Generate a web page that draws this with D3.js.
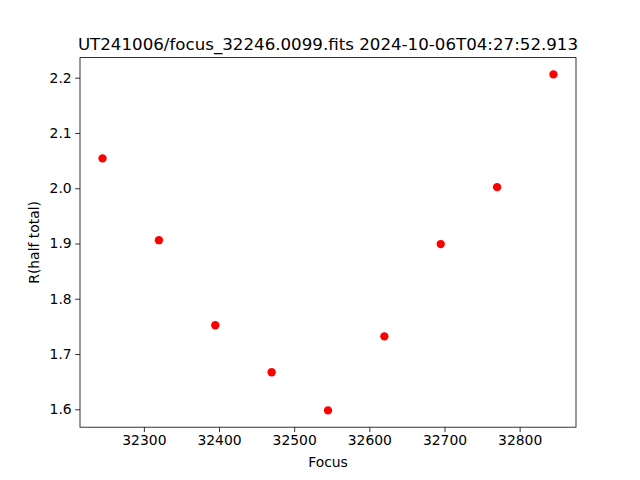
<!DOCTYPE html>
<html><head><meta charset="utf-8">
<script src="https://cdn.jsdelivr.net/npm/d3@7"></script>
<style>body{margin:0;background:#fff}svg{display:block}text{font-family:"DejaVu Sans",sans-serif}</style>
</head><body>
<svg id="c" width="640" height="480"></svg>
<script>
const focus = [32245, 32320, 32395, 32470, 32545, 32620, 32695, 32770, 32845];
const rhalf = [2.054, 1.906, 1.752, 1.667, 1.598, 1.732, 1.899, 2.002, 2.206];
const xTicks = [32300, 32400, 32500, 32600, 32700, 32800];
const yTicks = [1.6, 1.7, 1.8, 1.9, 2.0, 2.1, 2.2];
const title = "UT241006/focus_32246.0099.fits 2024-10-06T04:27:52.913";

const svg = d3.select("#c");
const L = 80, R = 576, T = 57.6, B = 427.2;
const xmin = d3.min(focus), xmax = d3.max(focus), xm = (xmax - xmin) * 0.05;
const ymin = d3.min(rhalf), ymax = d3.max(rhalf), ym = (ymax - ymin) * 0.05;
const x = d3.scaleLinear().domain([xmin - xm, xmax + xm]).range([L, R]);
const y = d3.scaleLinear().domain([ymin - ym, ymax + ym]).range([B, T]);

const xa = svg.append("g").attr("transform", `translate(0,${B})`)
  .call(d3.axisBottom(x).tickValues(xTicks).tickFormat(d3.format("d")).tickSize(4.86).tickPadding(3.5));
const ya = svg.append("g").attr("transform", `translate(${L},0)`)
  .call(d3.axisLeft(y).tickValues(yTicks).tickFormat(d3.format(".1f")).tickSize(4.86).tickPadding(3.5));
[xa, ya].forEach(a => {
  a.select(".domain").remove();
  a.selectAll("line").attr("stroke", "#000").attr("stroke-width", 0.8);
  a.selectAll("text").attr("font-size", "13.9px").attr("fill", "#000").attr("font-family", "DejaVu Sans");
});

svg.append("rect").attr("x", L).attr("y", T).attr("width", R - L).attr("height", B - T)
  .attr("fill", "none").attr("stroke", "#000").attr("stroke-width", 0.8);

svg.append("g").selectAll("circle").data(focus).join("circle")
  .attr("cx", d => x(d)).attr("cy", (d, i) => y(rhalf[i])).attr("r", 4.17).attr("fill", "#ff0000");

svg.append("text").attr("x", (L + R) / 2).attr("y", 50).attr("text-anchor", "middle")
  .attr("font-size", "16.67px").text(title);
svg.append("text").attr("x", (L + R) / 2).attr("y", 467).attr("text-anchor", "middle")
  .attr("font-size", "13.9px").text("Focus");
svg.append("text").attr("transform", `translate(39,${(T + B) / 2}) rotate(-90)`).attr("text-anchor", "middle")
  .attr("font-size", "13.9px").text("R(half total)");
</script>
</body></html>
